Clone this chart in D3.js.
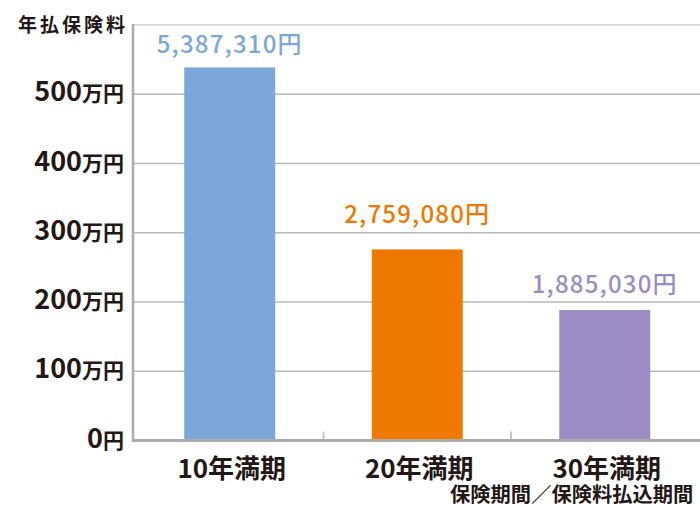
<!DOCTYPE html>
<html><head><meta charset="utf-8">
<script src="https://cdn.jsdelivr.net/npm/d3@7"></script>
<style>
html,body{margin:0;padding:0;background:#fff;}
svg{display:block;}
text{font-family:"Noto Sans CJK JP","Noto Sans",sans-serif;}
</style></head>
<body>
<svg id="c" width="700" height="505"></svg>
<script>
// ---- data ----
const categories = ["10年満期", "20年満期", "30年満期"];
const premiums = [5387310, 2759080, 1885030];          // 年払保険料 (円)
const valueLabels = ["5,387,310円", "2,759,080円", "1,885,030円"];
const yTicks = [0, 100, 200, 300, 400, 500, 600];        // 万円
const yTickLabels = ["0", "100", "200", "300", "400", "500", ""];
const barColors = ["#7ba7d9", "#ee7800", "#9b8dc3"];
const yTitle = "年払保険料";
const xTitle = "保険期間／保険料払込期間";

// ---- layout ----
const svg = d3.select("#c");
const axisX = 133, baseY = 440.5, topY = 25, rightX = 700;
const labelLift = [14, 26, 17];
const ink = "#231815";

const y = d3.scaleLinear().domain([0, 600]).range([baseY, topY]);
const x = d3.scaleBand().domain(categories).range([136, 698.5])
  .paddingInner(0.5147).paddingOuter(0.2573);

// gridlines
svg.append("g").selectAll("line").data(yTicks.filter(d => d > 0)).join("line")
  .attr("x1", axisX).attr("x2", rightX)
  .attr("y1", d => y(d)).attr("y2", d => y(d))
  .attr("stroke", d => d === 600 ? "#cfcfcf" : "#b9b9b9")
  .attr("stroke-width", 1.5);

// bars
svg.append("g").selectAll("rect").data(premiums).join("rect")
  .attr("x", (d, i) => x(categories[i]))
  .attr("width", x.bandwidth())
  .attr("y", d => y(d / 10000))
  .attr("height", d => baseY - y(d / 10000))
  .attr("fill", (d, i) => barColors[i]);

// category separator ticks
const step = x.step();
svg.append("g").selectAll("line").data(categories.slice(1)).join("line")
  .attr("x1", d => x(d) - step * x.paddingInner() / 2)
  .attr("x2", d => x(d) - step * x.paddingInner() / 2)
  .attr("y1", baseY).attr("y2", baseY - 9)
  .attr("stroke", "#c4c4c4").attr("stroke-width", 2);

// axes lines
svg.append("line").attr("x1", axisX).attr("x2", axisX).attr("y1", topY - 1).attr("y2", baseY + 1.5)
  .attr("stroke", "#acacac").attr("stroke-width", 2.5);
svg.append("line").attr("x1", axisX - 1).attr("x2", rightX).attr("y1", baseY).attr("y2", baseY)
  .attr("stroke", "#acacac").attr("stroke-width", 3);

// y tick labels
const yl = svg.append("g").selectAll("text").data(yTicks.filter((d, i) => yTickLabels[i] !== "")).join("text")
  .attr("x", 124).attr("y", d => y(d) + 7)
  .attr("text-anchor", "end").attr("fill", ink).attr("font-weight", 700);
yl.append("tspan").attr("font-size", 27).text(d => yTickLabels[yTicks.indexOf(d)]);
yl.append("tspan").attr("font-size", 21).text(d => d === 0 ? "円" : "万円");

// y title
svg.append("text").attr("x", 18).attr("y", 32).attr("fill", ink)
  .attr("font-size", 19).attr("font-weight", 700).attr("letter-spacing", 3).text(yTitle);

// value labels
svg.append("g").selectAll("text").data(premiums).join("text")
  .attr("x", (d, i) => x(categories[i]) + x.bandwidth() / 2)
  .attr("y", (d, i) => y(d / 10000) - labelLift[i])
  .attr("text-anchor", "middle").attr("fill", (d, i) => barColors[i])
  .attr("font-size", 24).attr("font-weight", 500).attr("letter-spacing", 1.2)
  .text((d, i) => valueLabels[i]);

// category labels
svg.append("g").selectAll("text").data(categories).join("text")
  .attr("x", d => x(d) + x.bandwidth() / 2 + 2)
  .attr("y", 478)
  .attr("text-anchor", "middle").attr("fill", ink)
  .attr("font-size", 26).attr("font-weight", 700).text(d => d);

// x title
svg.append("text").attr("x", 450).attr("y", 502).attr("fill", ink)
  .attr("font-size", 20.3).attr("font-weight", 700).text(xTitle);
</script>
</body></html>
